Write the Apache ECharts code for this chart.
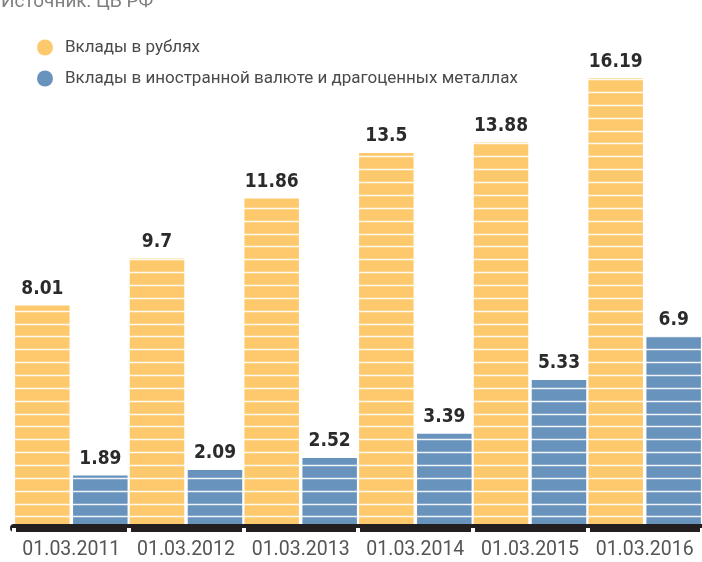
<!DOCTYPE html>
<html>
<head>
<meta charset="utf-8">
<script src="https://cdn.jsdelivr.net/npm/echarts@6/dist/echarts.min.js"></script>
<style>
  html, body { margin: 0; padding: 0; background: #fff; }
  #chart { width: 702px; height: 562px; }
</style>
</head>
<body>
<div id="chart"></div>
<script>
const categories = ['01.03.2011', '01.03.2012', '01.03.2013', '01.03.2014', '01.03.2015', '01.03.2016'];
const rubDeposits = [8.01, 9.7, 11.86, 13.5, 13.88, 16.19];
const fxDeposits = [1.89, 2.09, 2.52, 3.39, 5.33, 6.9];
const seriesNames = ['Вклады в рублях', 'Вклады в иностранной валюте и драгоценных металлах'];
const sourceText = 'Источник: ЦБ РФ';

const ORANGE = '#fec96c';
const BLUE = '#6893bd';

const chart = echarts.init(document.getElementById('chart'));

const valueLabel = {
    show: true,
    position: 'top',
    distance: 7,
    fontFamily: '"Liberation Sans Narrow", "DejaVu Sans Condensed", "DejaVu Sans", sans-serif',
    fontWeight: 'bold condensed',   // goes into the canvas font string as weight + stretch
    fontSize: 19,
    color: '#2b2b2b'
};

// bars on xAxis 0, a transparent copy on xAxis 1 only carries the labels above the stripes
function barSeries(name, data, color, xIdx, labelOnly) {
    return {
        name: name,
        type: 'bar',
        xAxisIndex: xIdx,
        yAxisIndex: 0,
        data: data,
        barWidth: 54.5,
        barGap: '6.4%',
        silent: labelOnly,
        z: labelOnly ? 6 : 2,
        itemStyle: { color: labelOnly ? 'rgba(0,0,0,0)' : color },
        label: labelOnly ? valueLabel : { show: false }
    };
}

const option = {
    animation: false,
    title: {
        text: sourceText,
        left: -4,
        top: -12,
        textStyle: { fontFamily: 'Roboto', fontSize: 19, fontWeight: 'normal', color: '#808080' }
    },
    legend: {
        data: seriesNames,
        orient: 'vertical',
        left: 32,
        top: 34,
        icon: 'circle',
        itemWidth: 16,
        itemHeight: 16,
        itemGap: 14,
        selectedMode: false,
        textStyle: {
            fontFamily: 'Roboto',
            fontSize: 17,
            color: '#4a4a4a',
            padding: [0, 0, 0, 7]
        }
    },
    grid: { left: 14, right: -10, top: 28, bottom: 34, containLabel: false },
    xAxis: [
        {
            type: 'category',
            data: categories,
            position: 'bottom',
            z: 5,
            axisLine: { lineStyle: { color: '#231f20', width: 8 } },
            axisTick: { show: true, interval: 0, length: 4, lineStyle: { color: '#fff', width: 4 } },
            axisLabel: {
                interval: 0,
                margin: 12,
                fontFamily: 'Roboto',
                fontSize: 19.5,
                color: '#555'
            }
        },
        {
            // second pass of the white gaps in the black base, pointing up
            type: 'category',
            data: categories,
            position: 'bottom',
            z: 5,
            axisLine: { show: false },
            axisTick: { show: true, inside: true, interval: 0, length: 4, lineStyle: { color: '#fff', width: 4 } },
            axisLabel: { show: false }
        }
    ],
    yAxis: [
        {
            type: 'value',
            min: 0,
            max: 18,
            show: false
        },
        {
            // white horizontal stripes over the bars
            type: 'value',
            inverse: true,
            min: 0,
            max: 500,
            interval: 12.86,
            position: 'right',
            z: 3,
            axisLine: { show: false },
            axisTick: { show: false },
            axisLabel: { show: false },
            splitLine: { show: true, lineStyle: { color: 'rgba(255,255,255,0.9)', width: 1.3 } }
        }
    ],
    series: [
        barSeries(seriesNames[0], rubDeposits, ORANGE, 0, false),
        barSeries(seriesNames[1], fxDeposits, BLUE, 0, false),
        barSeries('labels-rub', rubDeposits, ORANGE, 1, true),
        barSeries('labels-fx', fxDeposits, BLUE, 1, true)
    ]
};

chart.setOption(option);
</script>
</body>
</html>
